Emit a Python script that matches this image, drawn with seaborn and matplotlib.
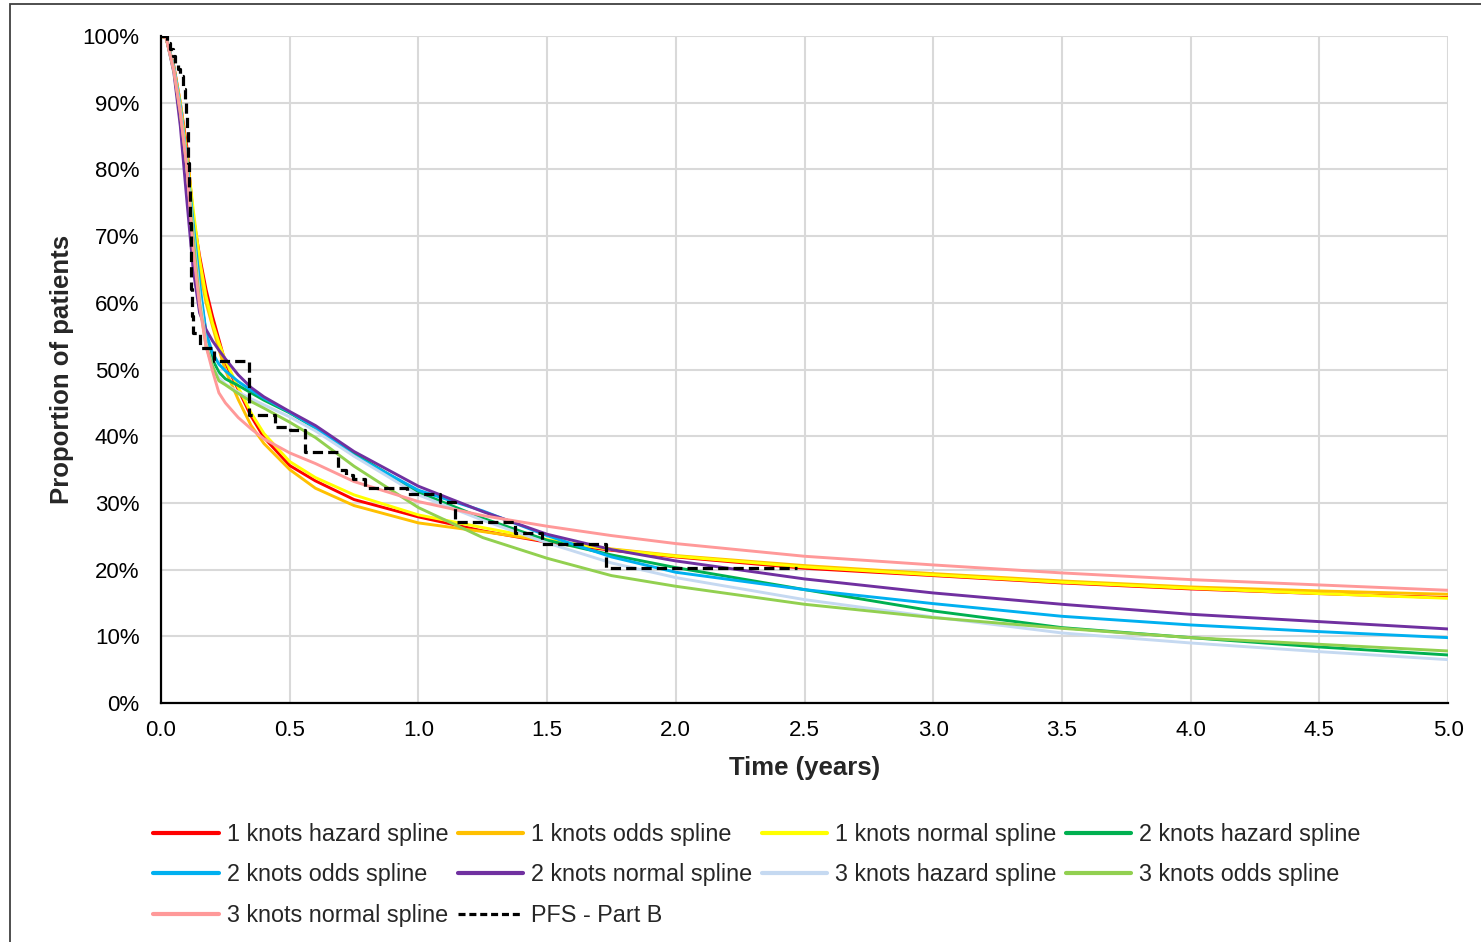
import numpy as np
import pandas as pd
import matplotlib
matplotlib.use("Agg")
import matplotlib.pyplot as plt
from matplotlib.lines import Line2D
from matplotlib.patches import Rectangle
import seaborn as sns

# ---------------- data ----------------
time_years = [0, 0.02, 0.05, 0.075, 0.1, 0.125, 0.15, 0.175, 0.2, 0.225, 0.25, 0.3, 0.35, 0.4,
              0.5, 0.6, 0.75, 1.0, 1.25, 1.5, 1.75, 2.0, 2.5, 3.0, 3.5, 4.0, 4.5, 5.0]

knots1_hazard = [100, 99.7, 95.5, 90, 83.5, 73, 67, 62, 58, 54.5, 51, 47, 43, 39.8,
                 35.6, 33.3, 30.5, 27.9, 25.8, 24.1, 22.9, 21.9, 20.2, 19.1, 18.0, 17.1, 16.4, 15.8]
knots1_odds = [100, 99.7, 95, 89.5, 81.5, 72.5, 65, 60, 56.5, 53, 49.9, 45.5, 41.6, 38.9,
               35.0, 32.2, 29.6, 27.0, 25.7, 24.3, 23.1, 22.1, 20.6, 19.4, 18.3, 17.4, 16.8, 16.3]
knots1_normal = [100, 99.7, 95.3, 90, 82.5, 74, 66.5, 61, 57, 54, 51.4, 47.3, 43.5, 40.4,
                 36.2, 33.8, 31.2, 28.2, 26.3, 24.5, 23.0, 22.0, 20.4, 19.2, 18.1, 17.2, 16.4, 15.7]
knots2_hazard = [100, 99.8, 95, 89, 81, 71, 62, 55.5, 51.5, 49.6, 48.6, 47.6, 46.5, 45.4,
                 43.5, 41.2, 37.4, 31.6, 27.7, 24.4, 22.2, 20.3, 17.0, 13.8, 11.3, 9.8, 8.4, 7.2]
knots2_odds = [100, 99.8, 95.2, 89.5, 81.5, 72, 63, 55.5, 52.5, 50.8, 49.8, 48.2, 46.9, 45.7,
               43.6, 41.3, 37.1, 31.9, 28.8, 25.1, 21.9, 19.6, 17.0, 14.9, 13.0, 11.7, 10.7, 9.8]
knots2_normal = [100, 99.8, 94.5, 86.5, 75.5, 65, 58.5, 56, 54.3, 52.9, 51.6, 49.2, 47.3, 45.9,
                 43.7, 41.6, 37.7, 32.5, 28.7, 25.3, 23.0, 21.3, 18.6, 16.5, 14.8, 13.3, 12.2, 11.1]
knots3_hazard = [100, 99.8, 95, 89, 81, 70.5, 61, 54, 50.5, 48.8, 47.8, 46.6, 45.6, 44.7,
                 42.9, 40.8, 37.0, 31.2, 27.4, 24.0, 21.0, 18.8, 15.5, 12.9, 10.5, 9.0, 7.7, 6.5]
knots3_odds = [100, 99.7, 94.8, 88.5, 80.5, 70, 60, 53.5, 50.5, 48.3, 47.7, 46.4, 45.2, 44.2,
               42.1, 39.8, 35.5, 29.3, 24.8, 21.7, 19.1, 17.5, 14.8, 12.8, 11.2, 9.8, 8.8, 7.8]
knots3_normal = [100, 99.7, 94.8, 88.5, 80.5, 68, 59.5, 53.5, 49.8, 46.5, 45.0, 42.8, 41.1, 39.6,
                 37.5, 35.9, 33.2, 30.2, 28.1, 26.5, 25.1, 23.9, 22.0, 20.7, 19.5, 18.5, 17.7, 16.9]

# Kaplan-Meier (step) PFS - Part B
km_time = [0, 0.025, 0.035, 0.045, 0.055, 0.065, 0.075, 0.085, 0.092, 0.097, 0.1, 0.103, 0.106,
           0.109, 0.112, 0.115, 0.118, 0.121, 0.125, 0.15, 0.205, 0.342, 0.443, 0.5, 0.56, 0.687,
           0.72, 0.745, 0.793, 0.955, 1.084, 1.142, 1.375, 1.479, 1.73, 2.47]
km_surv = [100, 99, 98, 97, 95.9, 95, 94, 92, 90, 88, 86, 83, 81,
           77, 72, 67, 62, 58, 55.5, 53.2, 51.2, 43.2, 41.4, 40.9, 37.7, 34.9,
           34.2, 33.6, 32.2, 31.4, 30.2, 27.2, 25.5, 23.9, 20.2, 20.2]

series_names = ["1 knots hazard spline", "1 knots odds spline", "1 knots normal spline",
                "2 knots hazard spline", "2 knots odds spline", "2 knots normal spline",
                "3 knots hazard spline", "3 knots odds spline", "3 knots normal spline"]
series_values = [knots1_hazard, knots1_odds, knots1_normal, knots2_hazard, knots2_odds,
                 knots2_normal, knots3_hazard, knots3_odds, knots3_normal]
series_colors = ["#FF0000", "#FFC000", "#FFFF00", "#00B050", "#00B0F0",
                 "#7030A0", "#C5D9F1", "#92D050", "#FF9999"]
km_name = "PFS - Part B"

x_ticks = [0, 0.5, 1.0, 1.5, 2.0, 2.5, 3.0, 3.5, 4.0, 4.5, 5.0]
x_tick_labels = ["0.0", "0.5", "1.0", "1.5", "2.0", "2.5", "3.0", "3.5", "4.0", "4.5", "5.0"]
y_ticks = [0, 10, 20, 30, 40, 50, 60, 70, 80, 90, 100]
y_tick_labels = ["0%", "10%", "20%", "30%", "40%", "50%", "60%", "70%", "80%", "90%", "100%"]

# ---------------- plot ----------------
sns.set_theme(style="white")
plt.rcParams["font.family"] = ["Liberation Sans", "DejaVu Sans"]

fig = plt.figure(figsize=(14.81, 9.42), dpi=100)
ax = fig.add_axes([161 / 1481, 1 - 703 / 942, (1448 - 161) / 1481, (703 - 36) / 942])

long = pd.concat([pd.DataFrame({"t": time_years, "v": vals, "model": name})
                  for name, vals in zip(series_names, series_values)], ignore_index=True)
sns.lineplot(data=long, x="t", y="v", hue="model", hue_order=series_names,
             palette=dict(zip(series_names, series_colors)), linewidth=2.1,
             estimator=None, sort=False, legend=False, ax=ax)

km_df = pd.DataFrame({"t": km_time, "v": km_surv})
sns.lineplot(data=km_df, x="t", y="v", color="black", linewidth=2.3, estimator=None,
             sort=False, drawstyle="steps-post", dashes=False, ax=ax, legend=False)
ax.get_lines()[-1].set_linestyle((0, (3.2, 1.6)))
ax.get_lines()[-1].set_zorder(5)

ax.set_xlim(0, 5)
ax.set_ylim(0, 100)
ax.set_xticks(x_ticks)
ax.set_xticklabels(x_tick_labels)
ax.set_yticks(y_ticks)
ax.set_yticklabels(y_tick_labels)
ax.tick_params(axis="both", length=0, labelsize=16, colors="black")
ax.tick_params(axis="y", pad=15.5)
ax.tick_params(axis="x", pad=12)
ax.set_axisbelow(True)
ax.grid(True, color="#D9D9D9", linewidth=1.5)
for side in ["top", "right"]:
    ax.spines[side].set_visible(False)
for side in ["left", "bottom"]:
    ax.spines[side].set_color("black")
    ax.spines[side].set_linewidth(1.6)
    ax.spines[side].set_zorder(6)

ax.set_xlabel("Time (years)", fontsize=18.5, fontweight="bold", labelpad=11)
ax.set_ylabel("Proportion of patients", fontsize=18.5, fontweight="bold", labelpad=6)

# legend (row-major order like the reference, arranged for column-major filling)
handles = [Line2D([], [], color=c, lw=3) for c in series_colors]
handles.append(Line2D([], [], color="black", lw=2.3, linestyle=(0, (2.2, 1.2))))
labels = series_names + [km_name]
order = [0, 4, 8, 1, 5, 9, 2, 6, 3, 7]
leg = fig.legend([handles[i] for i in order], [labels[i] for i in order], ncol=4,
                 loc="center", bbox_to_anchor=(757 / 1481, 1 - 875 / 942), frameon=False,
                 fontsize=16.8, handlelength=2.8, handletextpad=0.35, columnspacing=0.4,
                 labelspacing=0.76)

# outer chart frame (cropped: only left and top edges visible)
fig.add_artist(Rectangle((9.5 / 1481, -0.05), 1.2, 1.05 - 4 / 942, transform=fig.transFigure,
                         fill=False, edgecolor="#404040", linewidth=1.3))

fig.savefig("out.png", dpi=100, facecolor="white")
